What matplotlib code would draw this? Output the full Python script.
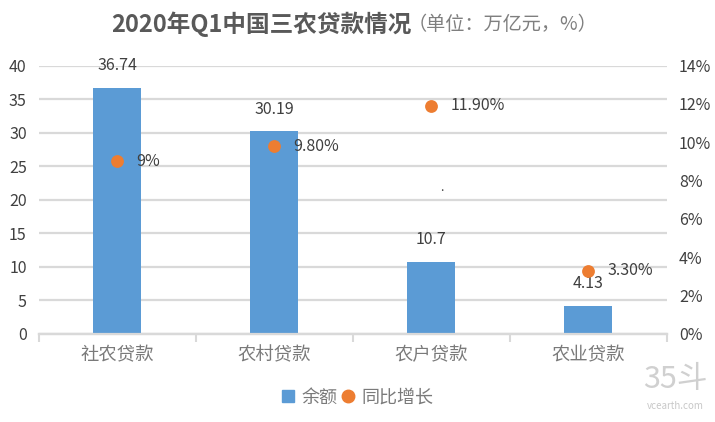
#!/usr/bin/env python

import matplotlib
matplotlib.use('Agg')
import matplotlib.pyplot as plt

plt.rcParams['font.family'] = ['Noto Sans CJK SC', 'DejaVu Sans']

categories = ['社农贷款', '农村贷款', '农户贷款', '农业贷款']
balance = [36.74, 30.19, 10.7, 4.13]
growth = [9.0, 9.8, 11.9, 3.3]
balance_labels = ['36.74', '30.19', '10.7', '4.13']
growth_labels = ['9%', '9.80%', '11.90%', '3.30%']
left_ticks = [0, 5, 10, 15, 20, 25, 30, 35, 40]
right_ticks = [0, 2, 4, 6, 8, 10, 12, 14]

blue = '#5B9BD5'
orange = '#ED7D31'
grid = '#D9D9D9'
dark = '#404040'
grey = '#7A7A7A'
W, H = 715, 422

fig = plt.figure(figsize=(W / 100, H / 100), dpi=100)
ax = fig.add_axes([38.5 / W, 1 - 333.7 / H, 628 / W, 268 / H])
ax2 = ax.twinx()

x = list(range(len(categories)))
ax.set_axisbelow(True)
ax.yaxis.grid(True, color=grid, lw=1.6)
ax.bar(x, balance, width=0.31, color=blue, zorder=3)
ax.set_xlim(-0.5, 3.5)
ax.set_ylim(0, 40)
ax.set_yticks(left_ticks)
ax.set_xticks(x)
ax.set_xticklabels(categories, fontsize=13.2, color=grey)
ax.tick_params(axis='x', length=0, pad=9)
ax.tick_params(axis='y', length=0, pad=8.5, labelsize=11.5, labelcolor=dark)
# category separators below the axis
ax.set_xticks([-0.5, 0.5, 1.5, 2.5, 3.5], minor=True)
ax.tick_params(axis='x', which='minor', length=6, width=1.5, color=grid)

ax2.scatter(x, growth, s=85, color=orange, linewidths=0, zorder=5)
ax2.set_ylim(0, 14)
ax2.set_yticks(right_ticks)
ax2.set_yticklabels([f'{t}%' for t in right_ticks])
ax2.tick_params(axis='y', length=0, pad=9, labelsize=11.5, labelcolor=dark)

for a in (ax, ax2):
    for s in ('top', 'left', 'right'):
        a.spines[s].set_visible(False)
    a.spines['bottom'].set_color(grid)
    a.spines['bottom'].set_linewidth(1.6)

for i, v in enumerate(balance):
    ax.annotate(balance_labels[i], (i, v), xytext=(0, 16), textcoords='offset points',
                ha='center', va='center', fontsize=11.5, color=dark, zorder=6)
for i, v in enumerate(growth):
    ax2.annotate(growth_labels[i], (i, v), xytext=(14, 0), textcoords='offset points',
                 ha='left', va='center', fontsize=11.5, color=dark, zorder=6)

# stray dot in the source picture
fig.text(442 / W, 1 - 188 / H, '.', ha='center', va='center', fontsize=9, color=dark)

fig.text(111 / W, 1 - 24 / H, '2020年Q1中国三农贷款情况', ha='left', va='center',
         fontsize=17, fontweight='bold', color='#595959')
fig.text(408 / W, 1 - 25 / H, '（单位：万亿元，%）', ha='left', va='center',
         fontsize=13.8, color='#7F7F7F')

h1 = plt.Line2D([], [], ls='', marker='s', ms=9, color=blue)
h2 = plt.Line2D([], [], ls='', marker='o', ms=9, color=orange)
fig.legend([h1, h2], ['余额', '同比增长'], loc='center', bbox_to_anchor=(356 / W, 1 - 397.5 / H),
           ncol=2, frameon=False, fontsize=13, labelcolor=grey, handlelength=1,
           handletextpad=0.25, columnspacing=0.1)

# watermark
fig.text(675 / W, 1 - 380 / H, '35斗', ha='center', va='center', fontsize=22,
         color='#D0D0D0')
fig.text(675 / W, 1 - 406 / H, 'vcearth.com', ha='center', va='center', fontsize=7,
         color='#C8C8C8')

fig.savefig('out.png', dpi=100)
